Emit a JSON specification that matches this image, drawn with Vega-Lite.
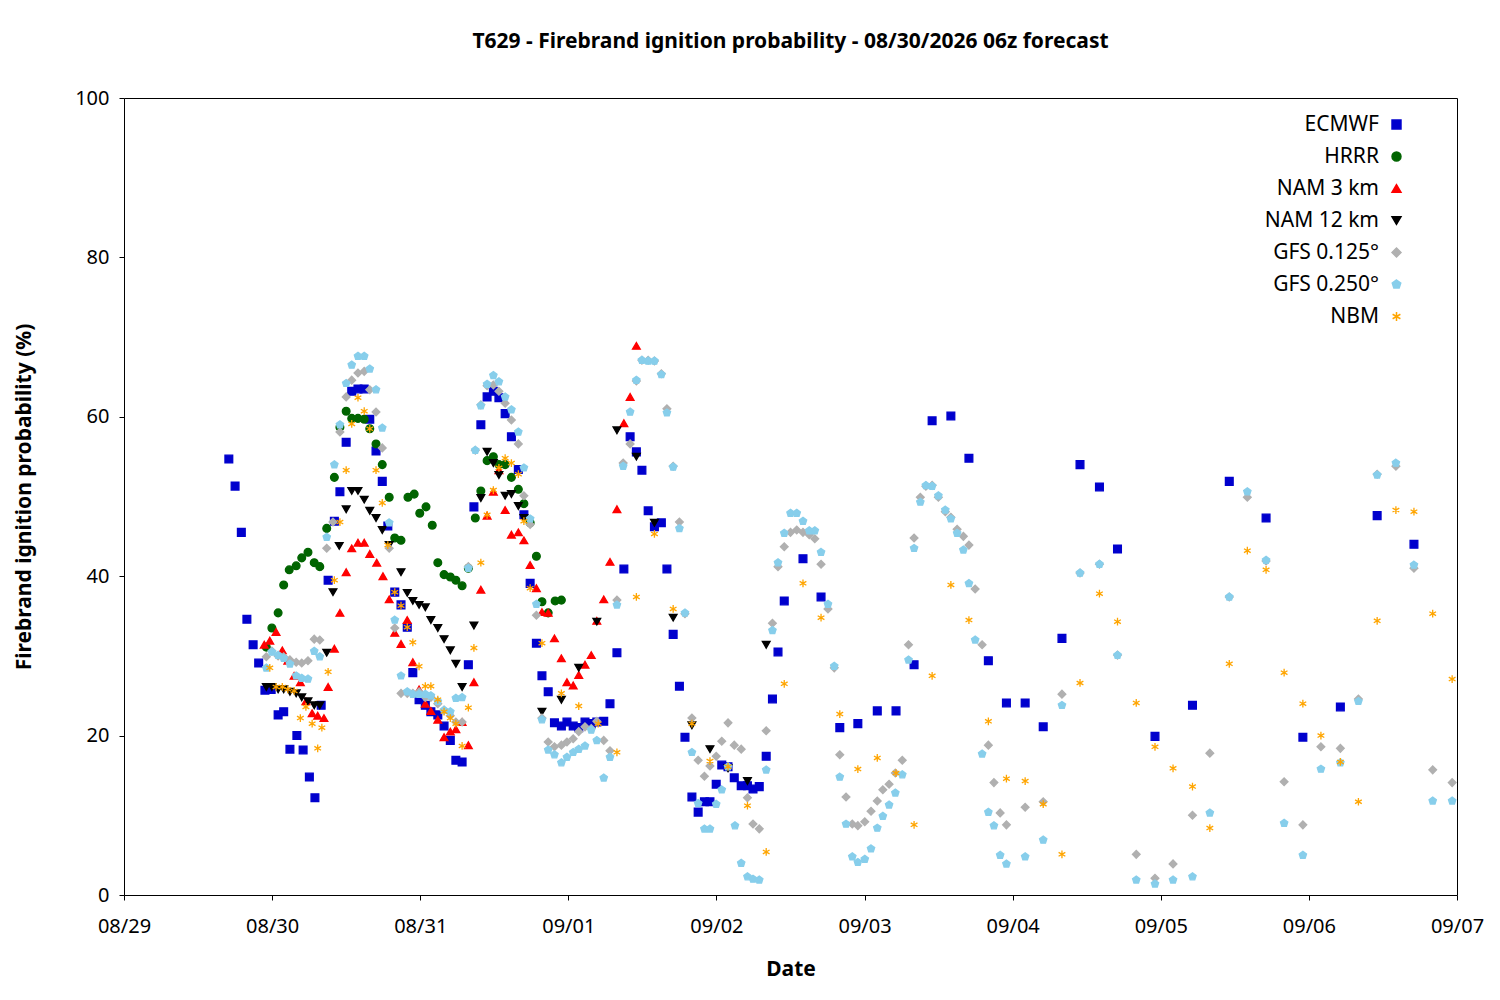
{
"$schema":"https://vega.github.io/schema/vega-lite/v6.json",
"width":1333,"height":797,
"autosize":"none",
"padding":{"left":124,"top":98,"right":43,"bottom":105},
"background":"white",
"title":{"text":"T629 - Firebrand ignition probability - 08/30/2026 06z forecast","font":"Noto Sans","fontSize":21,"fontWeight":"bold","offset":36},
"config":{"view":{"stroke":"black","strokeWidth":1},"font":"Noto Sans"},
"data":{"values":[
{"m":"ECMWF","h":15.1,"v":54.7},{"m":"ECMWF","h":16,"v":51.3},{"m":"ECMWF","h":16.9,"v":45.5},{"m":"ECMWF","h":17.7,"v":34.6},{"m":"ECMWF","h":18.6,"v":31.4},{"m":"ECMWF","h":19.4,"v":29.1},{"m":"ECMWF","h":20.3,"v":25.7},{"m":"ECMWF","h":21.2,"v":25.8},{"m":"ECMWF","h":22.2,"v":22.6},{"m":"ECMWF","h":23,"v":23},{"m":"ECMWF","h":23.9,"v":18.3},{"m":"ECMWF","h":24.9,"v":20},{"m":"ECMWF","h":25.8,"v":18.2},{"m":"ECMWF","h":26.7,"v":14.8},{"m":"ECMWF","h":27.5,"v":12.2},{"m":"ECMWF","h":28.4,"v":23.8},{"m":"ECMWF","h":29.4,"v":39.5},{"m":"ECMWF","h":30.3,"v":46.9},{"m":"ECMWF","h":31.1,"v":50.6},{"m":"ECMWF","h":32,"v":56.8},{"m":"ECMWF","h":32.8,"v":63.2},{"m":"ECMWF","h":33.7,"v":63.5},{"m":"ECMWF","h":34.6,"v":63.5},{"m":"ECMWF","h":35.4,"v":59.7},{"m":"ECMWF","h":36.3,"v":55.7},{"m":"ECMWF","h":37.2,"v":51.9},{"m":"ECMWF","h":38,"v":46.3},{"m":"ECMWF","h":39,"v":38},{"m":"ECMWF","h":39.9,"v":36.4},{"m":"ECMWF","h":40.8,"v":33.6},{"m":"ECMWF","h":41.6,"v":27.9},{"m":"ECMWF","h":42.5,"v":24.5},{"m":"ECMWF","h":43.4,"v":23.8},{"m":"ECMWF","h":44.2,"v":23},{"m":"ECMWF","h":45.2,"v":22.6},{"m":"ECMWF","h":46.1,"v":21.2},{"m":"ECMWF","h":47,"v":19.4},{"m":"ECMWF","h":47.8,"v":16.9},{"m":"ECMWF","h":48.7,"v":16.7},{"m":"ECMWF","h":49.6,"v":28.9},{"m":"ECMWF","h":50.4,"v":48.7},{"m":"ECMWF","h":51.4,"v":59},{"m":"ECMWF","h":52.3,"v":62.5},{"m":"ECMWF","h":53.2,"v":63.2},{"m":"ECMWF","h":54,"v":62.4},{"m":"ECMWF","h":54.9,"v":60.4},{"m":"ECMWF","h":55.8,"v":57.5},{"m":"ECMWF","h":56.8,"v":53.4},{"m":"ECMWF","h":57.6,"v":47.7},{"m":"ECMWF","h":58.5,"v":39.1},{"m":"ECMWF","h":59.4,"v":31.6},{"m":"ECMWF","h":60.2,"v":27.5},{"m":"ECMWF","h":61.1,"v":25.5},{"m":"ECMWF","h":62,"v":21.6},{"m":"ECMWF","h":63,"v":21.2},{"m":"ECMWF","h":63.8,"v":21.7},{"m":"ECMWF","h":64.7,"v":21.2},{"m":"ECMWF","h":65.5,"v":21},{"m":"ECMWF","h":66.4,"v":21.7},{"m":"ECMWF","h":67.3,"v":21.5},{"m":"ECMWF","h":68.1,"v":21.7},{"m":"ECMWF","h":69.1,"v":21.8},{"m":"ECMWF","h":70,"v":24},{"m":"ECMWF","h":71,"v":30.4},{"m":"ECMWF","h":72,"v":40.9},{"m":"ECMWF","h":72.9,"v":57.5},{"m":"ECMWF","h":73.8,"v":55.6},{"m":"ECMWF","h":74.6,"v":53.3},{"m":"ECMWF","h":75.5,"v":48.2},{"m":"ECMWF","h":76.4,"v":46.2},{"m":"ECMWF","h":77.4,"v":46.7},{"m":"ECMWF","h":78.2,"v":40.9},{"m":"ECMWF","h":79.1,"v":32.7},{"m":"ECMWF","h":80,"v":26.2},{"m":"ECMWF","h":80.8,"v":19.8},{"m":"ECMWF","h":81.8,"v":12.3},{"m":"ECMWF","h":82.7,"v":10.4},{"m":"ECMWF","h":83.6,"v":11.7},{"m":"ECMWF","h":84.4,"v":11.7},{"m":"ECMWF","h":85.3,"v":13.9},{"m":"ECMWF","h":86.1,"v":16.3},{"m":"ECMWF","h":87,"v":16.1},{"m":"ECMWF","h":87.9,"v":14.7},{"m":"ECMWF","h":88.9,"v":13.7},{"m":"ECMWF","h":89.8,"v":13.7},{"m":"ECMWF","h":90.6,"v":13.3},{"m":"ECMWF","h":91.5,"v":13.6},{"m":"ECMWF","h":92.5,"v":17.4},{"m":"ECMWF","h":93.4,"v":24.6},{"m":"ECMWF","h":94.2,"v":30.5},{"m":"ECMWF","h":95.1,"v":36.9},{"m":"ECMWF","h":97.8,"v":42.2},{"m":"ECMWF","h":100.4,"v":37.4},{"m":"ECMWF","h":103.1,"v":21},{"m":"ECMWF","h":105.7,"v":21.5},{"m":"ECMWF","h":108.5,"v":23.1},{"m":"ECMWF","h":111.2,"v":23.1},{"m":"ECMWF","h":113.8,"v":28.9},{"m":"ECMWF","h":116.4,"v":59.5},{"m":"ECMWF","h":119.1,"v":60.1},{"m":"ECMWF","h":121.7,"v":54.8},{"m":"ECMWF","h":124.5,"v":29.4},{"m":"ECMWF","h":127.1,"v":24.1},{"m":"ECMWF","h":129.8,"v":24.1},{"m":"ECMWF","h":132.4,"v":21.1},{"m":"ECMWF","h":135.1,"v":32.2},{"m":"ECMWF","h":137.7,"v":54},{"m":"ECMWF","h":140.5,"v":51.2},{"m":"ECMWF","h":143.1,"v":43.4},{"m":"ECMWF","h":148.5,"v":19.9},{"m":"ECMWF","h":153.9,"v":23.8},{"m":"ECMWF","h":159.2,"v":51.9},{"m":"ECMWF","h":164.5,"v":47.3},{"m":"ECMWF","h":169.8,"v":19.8},{"m":"ECMWF","h":175.2,"v":23.6},{"m":"ECMWF","h":180.5,"v":47.6},{"m":"ECMWF","h":185.8,"v":44},
{"m":"HRRR","h":20.5,"v":31.1},{"m":"HRRR","h":21.3,"v":33.5},{"m":"HRRR","h":22.2,"v":35.4},{"m":"HRRR","h":23,"v":38.9},{"m":"HRRR","h":23.8,"v":40.8},{"m":"HRRR","h":24.8,"v":41.3},{"m":"HRRR","h":25.6,"v":42.3},{"m":"HRRR","h":26.5,"v":43},{"m":"HRRR","h":27.4,"v":41.7},{"m":"HRRR","h":28.2,"v":41.2},{"m":"HRRR","h":29.2,"v":46},{"m":"HRRR","h":30.3,"v":52.4},{"m":"HRRR","h":31.1,"v":58.7},{"m":"HRRR","h":32,"v":60.7},{"m":"HRRR","h":32.8,"v":59.8},{"m":"HRRR","h":33.7,"v":59.8},{"m":"HRRR","h":34.6,"v":59.7},{"m":"HRRR","h":35.4,"v":58.5},{"m":"HRRR","h":36.3,"v":56.6},{"m":"HRRR","h":37.2,"v":54},{"m":"HRRR","h":38.2,"v":49.9},{"m":"HRRR","h":39,"v":44.8},{"m":"HRRR","h":39.9,"v":44.5},{"m":"HRRR","h":40.9,"v":49.9},{"m":"HRRR","h":41.8,"v":50.3},{"m":"HRRR","h":42.6,"v":47.9},{"m":"HRRR","h":43.5,"v":48.7},{"m":"HRRR","h":44.4,"v":46.4},{"m":"HRRR","h":45.2,"v":41.7},{"m":"HRRR","h":46.1,"v":40.2},{"m":"HRRR","h":47,"v":39.9},{"m":"HRRR","h":47.8,"v":39.5},{"m":"HRRR","h":48.7,"v":38.8},{"m":"HRRR","h":49.6,"v":41},{"m":"HRRR","h":50.6,"v":47.3},{"m":"HRRR","h":51.4,"v":50.7},{"m":"HRRR","h":52.3,"v":54.5},{"m":"HRRR","h":53.2,"v":55},{"m":"HRRR","h":54,"v":54},{"m":"HRRR","h":54.9,"v":54},{"m":"HRRR","h":55.8,"v":52.4},{"m":"HRRR","h":56.8,"v":50.9},{"m":"HRRR","h":57.6,"v":49.1},{"m":"HRRR","h":58.5,"v":46.7},{"m":"HRRR","h":59.4,"v":42.5},{"m":"HRRR","h":60.2,"v":36.8},{"m":"HRRR","h":61.1,"v":35.4},{"m":"HRRR","h":62.1,"v":36.9},{"m":"HRRR","h":63,"v":37},
{"m":"NAM 3 km","h":20.2,"v":31.4},{"m":"NAM 3 km","h":21,"v":31.9},{"m":"NAM 3 km","h":21.9,"v":33},{"m":"NAM 3 km","h":22.8,"v":30.7},{"m":"NAM 3 km","h":23.6,"v":29.4},{"m":"NAM 3 km","h":24.5,"v":27.5},{"m":"NAM 3 km","h":25.4,"v":26.7},{"m":"NAM 3 km","h":26.2,"v":24.3},{"m":"NAM 3 km","h":27.1,"v":22.8},{"m":"NAM 3 km","h":27.9,"v":22.5},{"m":"NAM 3 km","h":28.8,"v":22.2},{"m":"NAM 3 km","h":29.4,"v":26.1},{"m":"NAM 3 km","h":30.3,"v":30.9},{"m":"NAM 3 km","h":31.1,"v":35.4},{"m":"NAM 3 km","h":32,"v":40.5},{"m":"NAM 3 km","h":32.8,"v":43.5},{"m":"NAM 3 km","h":33.7,"v":44.2},{"m":"NAM 3 km","h":34.6,"v":44.2},{"m":"NAM 3 km","h":35.4,"v":42.8},{"m":"NAM 3 km","h":36.4,"v":41.7},{"m":"NAM 3 km","h":37.3,"v":40},{"m":"NAM 3 km","h":38.2,"v":37.1},{"m":"NAM 3 km","h":39,"v":32.9},{"m":"NAM 3 km","h":39.9,"v":31.5},{"m":"NAM 3 km","h":40.8,"v":34.5},{"m":"NAM 3 km","h":41.6,"v":29.2},{"m":"NAM 3 km","h":42.5,"v":25.8},{"m":"NAM 3 km","h":43.4,"v":24},{"m":"NAM 3 km","h":44.2,"v":23.1},{"m":"NAM 3 km","h":45.2,"v":22},{"m":"NAM 3 km","h":46.1,"v":19.8},{"m":"NAM 3 km","h":47,"v":20.5},{"m":"NAM 3 km","h":47.8,"v":20.8},{"m":"NAM 3 km","h":48.7,"v":21.7},{"m":"NAM 3 km","h":49.6,"v":18.8},{"m":"NAM 3 km","h":50.4,"v":26.7},{"m":"NAM 3 km","h":51.4,"v":38.3},{"m":"NAM 3 km","h":52.3,"v":47.6},{"m":"NAM 3 km","h":53.2,"v":50.6},{"m":"NAM 3 km","h":54,"v":53.3},{"m":"NAM 3 km","h":54.9,"v":48.3},{"m":"NAM 3 km","h":55.8,"v":45.2},{"m":"NAM 3 km","h":56.8,"v":45.5},{"m":"NAM 3 km","h":57.6,"v":44.5},{"m":"NAM 3 km","h":58.5,"v":41.4},{"m":"NAM 3 km","h":59.4,"v":38.5},{"m":"NAM 3 km","h":60.2,"v":35.5},{"m":"NAM 3 km","h":61.1,"v":35.4},{"m":"NAM 3 km","h":62,"v":32.2},{"m":"NAM 3 km","h":63,"v":29.7},{"m":"NAM 3 km","h":63.8,"v":26.7},{"m":"NAM 3 km","h":64.7,"v":26.3},{"m":"NAM 3 km","h":65.5,"v":27.6},{"m":"NAM 3 km","h":66.4,"v":28.9},{"m":"NAM 3 km","h":67.3,"v":30.1},{"m":"NAM 3 km","h":68.1,"v":34.4},{"m":"NAM 3 km","h":69.1,"v":37.1},{"m":"NAM 3 km","h":70,"v":41.8},{"m":"NAM 3 km","h":71,"v":48.4},{"m":"NAM 3 km","h":72,"v":59.2},{"m":"NAM 3 km","h":72.9,"v":62.5},{"m":"NAM 3 km","h":73.8,"v":68.9},
{"m":"NAM 12 km","h":20.5,"v":26.1},{"m":"NAM 12 km","h":21.3,"v":26.1},{"m":"NAM 12 km","h":22.2,"v":25.8},{"m":"NAM 12 km","h":23,"v":25.8},{"m":"NAM 12 km","h":23.9,"v":25.5},{"m":"NAM 12 km","h":24.8,"v":25.3},{"m":"NAM 12 km","h":25.6,"v":24.8},{"m":"NAM 12 km","h":26.5,"v":24.3},{"m":"NAM 12 km","h":27.4,"v":23.8},{"m":"NAM 12 km","h":28.2,"v":23.8},{"m":"NAM 12 km","h":29.2,"v":30.4},{"m":"NAM 12 km","h":30.1,"v":38},{"m":"NAM 12 km","h":31,"v":43.8},{"m":"NAM 12 km","h":32,"v":48.4},{"m":"NAM 12 km","h":32.8,"v":50.7},{"m":"NAM 12 km","h":33.7,"v":50.7},{"m":"NAM 12 km","h":34.6,"v":49.6},{"m":"NAM 12 km","h":35.4,"v":48.2},{"m":"NAM 12 km","h":36.3,"v":47.3},{"m":"NAM 12 km","h":37.2,"v":45.8},{"m":"NAM 12 km","h":38.2,"v":43.9},{"m":"NAM 12 km","h":39.9,"v":40.5},{"m":"NAM 12 km","h":40.8,"v":37.9},{"m":"NAM 12 km","h":41.6,"v":36.9},{"m":"NAM 12 km","h":42.5,"v":36.4},{"m":"NAM 12 km","h":43.4,"v":36.1},{"m":"NAM 12 km","h":44.2,"v":34.5},{"m":"NAM 12 km","h":45.2,"v":33.5},{"m":"NAM 12 km","h":46.1,"v":32.1},{"m":"NAM 12 km","h":47,"v":30.7},{"m":"NAM 12 km","h":47.8,"v":29},{"m":"NAM 12 km","h":48.7,"v":26.1},{"m":"NAM 12 km","h":50.4,"v":33.8},{"m":"NAM 12 km","h":51.4,"v":49.8},{"m":"NAM 12 km","h":52.3,"v":55.6},{"m":"NAM 12 km","h":53.2,"v":54.2},{"m":"NAM 12 km","h":54,"v":52.7},{"m":"NAM 12 km","h":54.9,"v":50.1},{"m":"NAM 12 km","h":55.8,"v":50.3},{"m":"NAM 12 km","h":56.8,"v":48.8},{"m":"NAM 12 km","h":57.6,"v":47.3},{"m":"NAM 12 km","h":60.2,"v":23},{"m":"NAM 12 km","h":63,"v":24.5},{"m":"NAM 12 km","h":65.5,"v":28.5},{"m":"NAM 12 km","h":68.1,"v":34.3},{"m":"NAM 12 km","h":71,"v":58.3},{"m":"NAM 12 km","h":73.8,"v":55},{"m":"NAM 12 km","h":76.4,"v":46.7},{"m":"NAM 12 km","h":79.1,"v":34.8},{"m":"NAM 12 km","h":81.8,"v":21.3},{"m":"NAM 12 km","h":84.4,"v":18.3},{"m":"NAM 12 km","h":87,"v":15.9},{"m":"NAM 12 km","h":89.8,"v":14.3},{"m":"NAM 12 km","h":92.5,"v":31.4},
{"m":"GFS 0.125°","h":20.5,"v":29.9},{"m":"GFS 0.125°","h":21.3,"v":30.6},{"m":"GFS 0.125°","h":22.2,"v":30},{"m":"GFS 0.125°","h":23,"v":29.9},{"m":"GFS 0.125°","h":23.9,"v":29.5},{"m":"GFS 0.125°","h":24.8,"v":29.2},{"m":"GFS 0.125°","h":25.6,"v":29.1},{"m":"GFS 0.125°","h":26.5,"v":29.4},{"m":"GFS 0.125°","h":27.4,"v":32.1},{"m":"GFS 0.125°","h":28.2,"v":32},{"m":"GFS 0.125°","h":29.2,"v":43.5},{"m":"GFS 0.125°","h":30.1,"v":46.8},{"m":"GFS 0.125°","h":31.1,"v":58.1},{"m":"GFS 0.125°","h":32,"v":62.5},{"m":"GFS 0.125°","h":32.8,"v":64.6},{"m":"GFS 0.125°","h":33.7,"v":65.5},{"m":"GFS 0.125°","h":34.6,"v":65.7},{"m":"GFS 0.125°","h":35.4,"v":63.4},{"m":"GFS 0.125°","h":36.3,"v":60.6},{"m":"GFS 0.125°","h":37.2,"v":56.1},{"m":"GFS 0.125°","h":38.2,"v":43.5},{"m":"GFS 0.125°","h":39,"v":33.5},{"m":"GFS 0.125°","h":39.9,"v":25.3},{"m":"GFS 0.125°","h":40.8,"v":25.3},{"m":"GFS 0.125°","h":41.6,"v":25.3},{"m":"GFS 0.125°","h":42.5,"v":25.5},{"m":"GFS 0.125°","h":43.4,"v":24.8},{"m":"GFS 0.125°","h":44.2,"v":24.8},{"m":"GFS 0.125°","h":45.2,"v":24},{"m":"GFS 0.125°","h":46.1,"v":23.2},{"m":"GFS 0.125°","h":47,"v":22.5},{"m":"GFS 0.125°","h":47.8,"v":21.7},{"m":"GFS 0.125°","h":48.7,"v":21.7},{"m":"GFS 0.125°","h":49.6,"v":41.2},{"m":"GFS 0.125°","h":50.6,"v":55.8},{"m":"GFS 0.125°","h":51.4,"v":61.5},{"m":"GFS 0.125°","h":52.3,"v":63.9},{"m":"GFS 0.125°","h":53.2,"v":64},{"m":"GFS 0.125°","h":54,"v":63.2},{"m":"GFS 0.125°","h":54.9,"v":61.7},{"m":"GFS 0.125°","h":55.8,"v":59.6},{"m":"GFS 0.125°","h":56.8,"v":56.6},{"m":"GFS 0.125°","h":57.6,"v":50.1},{"m":"GFS 0.125°","h":58.5,"v":46.5},{"m":"GFS 0.125°","h":59.4,"v":35.1},{"m":"GFS 0.125°","h":60.2,"v":22.2},{"m":"GFS 0.125°","h":61.1,"v":19.2},{"m":"GFS 0.125°","h":62,"v":18.6},{"m":"GFS 0.125°","h":63,"v":18.8},{"m":"GFS 0.125°","h":63.8,"v":19.2},{"m":"GFS 0.125°","h":64.7,"v":19.6},{"m":"GFS 0.125°","h":65.5,"v":20.5},{"m":"GFS 0.125°","h":66.4,"v":21.1},{"m":"GFS 0.125°","h":67.3,"v":20.9},{"m":"GFS 0.125°","h":68.1,"v":21.8},{"m":"GFS 0.125°","h":69.1,"v":19.4},{"m":"GFS 0.125°","h":70,"v":18.1},{"m":"GFS 0.125°","h":71,"v":37},{"m":"GFS 0.125°","h":71.9,"v":54.2},{"m":"GFS 0.125°","h":72.9,"v":56.6},{"m":"GFS 0.125°","h":73.8,"v":64.5},{"m":"GFS 0.125°","h":74.6,"v":67.1},{"m":"GFS 0.125°","h":75.5,"v":67.1},{"m":"GFS 0.125°","h":76.4,"v":67},{"m":"GFS 0.125°","h":77.4,"v":65.4},{"m":"GFS 0.125°","h":78.2,"v":61},{"m":"GFS 0.125°","h":79.1,"v":53.8},{"m":"GFS 0.125°","h":80,"v":46.8},{"m":"GFS 0.125°","h":80.8,"v":35.3},{"m":"GFS 0.125°","h":81.8,"v":22.2},{"m":"GFS 0.125°","h":82.7,"v":16.9},{"m":"GFS 0.125°","h":83.6,"v":14.9},{"m":"GFS 0.125°","h":84.4,"v":16.2},{"m":"GFS 0.125°","h":85.3,"v":17.4},{"m":"GFS 0.125°","h":86.1,"v":19.3},{"m":"GFS 0.125°","h":87,"v":21.6},{"m":"GFS 0.125°","h":87.9,"v":18.8},{"m":"GFS 0.125°","h":88.9,"v":18.3},{"m":"GFS 0.125°","h":89.8,"v":12.2},{"m":"GFS 0.125°","h":90.6,"v":8.9},{"m":"GFS 0.125°","h":91.5,"v":8.3},{"m":"GFS 0.125°","h":92.5,"v":20.6},{"m":"GFS 0.125°","h":93.4,"v":34.1},{"m":"GFS 0.125°","h":94.2,"v":41.2},{"m":"GFS 0.125°","h":95.1,"v":43.7},{"m":"GFS 0.125°","h":96,"v":45.5},{"m":"GFS 0.125°","h":96.9,"v":45.8},{"m":"GFS 0.125°","h":97.8,"v":45.5},{"m":"GFS 0.125°","h":98.7,"v":45.2},{"m":"GFS 0.125°","h":99.5,"v":44.7},{"m":"GFS 0.125°","h":100.4,"v":41.5},{"m":"GFS 0.125°","h":101.4,"v":35.9},{"m":"GFS 0.125°","h":102.3,"v":28.5},{"m":"GFS 0.125°","h":103.1,"v":17.6},{"m":"GFS 0.125°","h":104,"v":12.3},{"m":"GFS 0.125°","h":104.9,"v":8.9},{"m":"GFS 0.125°","h":105.7,"v":8.7},{"m":"GFS 0.125°","h":106.7,"v":9.2},{"m":"GFS 0.125°","h":107.6,"v":10.5},{"m":"GFS 0.125°","h":108.5,"v":11.8},{"m":"GFS 0.125°","h":109.3,"v":13.2},{"m":"GFS 0.125°","h":110.2,"v":13.9},{"m":"GFS 0.125°","h":111.1,"v":15.3},{"m":"GFS 0.125°","h":112.1,"v":16.9},{"m":"GFS 0.125°","h":113,"v":31.4},{"m":"GFS 0.125°","h":113.8,"v":44.8},{"m":"GFS 0.125°","h":114.7,"v":49.9},{"m":"GFS 0.125°","h":115.5,"v":51.3},{"m":"GFS 0.125°","h":116.4,"v":51.4},{"m":"GFS 0.125°","h":117.3,"v":49.9},{"m":"GFS 0.125°","h":118.3,"v":48.1},{"m":"GFS 0.125°","h":119.1,"v":47.4},{"m":"GFS 0.125°","h":120,"v":45.9},{"m":"GFS 0.125°","h":120.9,"v":45},{"m":"GFS 0.125°","h":121.7,"v":43.9},{"m":"GFS 0.125°","h":122.6,"v":38.4},{"m":"GFS 0.125°","h":123.6,"v":31.4},{"m":"GFS 0.125°","h":124.5,"v":18.8},{"m":"GFS 0.125°","h":125.3,"v":14.1},{"m":"GFS 0.125°","h":126.2,"v":10.3},{"m":"GFS 0.125°","h":127.1,"v":8.8},{"m":"GFS 0.125°","h":129.8,"v":11},{"m":"GFS 0.125°","h":132.4,"v":11.7},{"m":"GFS 0.125°","h":135.1,"v":25.2},{"m":"GFS 0.125°","h":137.7,"v":40.4},{"m":"GFS 0.125°","h":140.5,"v":41.5},{"m":"GFS 0.125°","h":143.1,"v":30.1},{"m":"GFS 0.125°","h":145.8,"v":5.1},{"m":"GFS 0.125°","h":148.5,"v":2.1},{"m":"GFS 0.125°","h":151.1,"v":3.9},{"m":"GFS 0.125°","h":153.9,"v":10},{"m":"GFS 0.125°","h":156.4,"v":17.8},{"m":"GFS 0.125°","h":159.2,"v":37.4},{"m":"GFS 0.125°","h":161.8,"v":49.9},{"m":"GFS 0.125°","h":164.5,"v":41.9},{"m":"GFS 0.125°","h":167.1,"v":14.2},{"m":"GFS 0.125°","h":169.8,"v":8.8},{"m":"GFS 0.125°","h":172.4,"v":18.6},{"m":"GFS 0.125°","h":175.2,"v":18.4},{"m":"GFS 0.125°","h":177.8,"v":24.6},{"m":"GFS 0.125°","h":180.5,"v":52.8},{"m":"GFS 0.125°","h":183.2,"v":53.8},{"m":"GFS 0.125°","h":185.8,"v":41},{"m":"GFS 0.125°","h":188.5,"v":15.7},{"m":"GFS 0.125°","h":191.3,"v":14.1},
{"m":"GFS 0.250°","h":20.5,"v":28.5},{"m":"GFS 0.250°","h":21.3,"v":30.5},{"m":"GFS 0.250°","h":22.2,"v":30.1},{"m":"GFS 0.250°","h":23,"v":29.7},{"m":"GFS 0.250°","h":23.9,"v":29},{"m":"GFS 0.250°","h":24.8,"v":27.5},{"m":"GFS 0.250°","h":25.6,"v":27.2},{"m":"GFS 0.250°","h":26.5,"v":27.1},{"m":"GFS 0.250°","h":27.4,"v":30.6},{"m":"GFS 0.250°","h":28.2,"v":29.9},{"m":"GFS 0.250°","h":29.2,"v":44.9},{"m":"GFS 0.250°","h":30.3,"v":54},{"m":"GFS 0.250°","h":31.1,"v":59},{"m":"GFS 0.250°","h":32,"v":64.2},{"m":"GFS 0.250°","h":32.8,"v":66.5},{"m":"GFS 0.250°","h":33.7,"v":67.6},{"m":"GFS 0.250°","h":34.6,"v":67.6},{"m":"GFS 0.250°","h":35.4,"v":66},{"m":"GFS 0.250°","h":36.3,"v":63.4},{"m":"GFS 0.250°","h":37.2,"v":58.6},{"m":"GFS 0.250°","h":38.2,"v":46.7},{"m":"GFS 0.250°","h":39,"v":34.5},{"m":"GFS 0.250°","h":39.9,"v":27.5},{"m":"GFS 0.250°","h":40.8,"v":25.5},{"m":"GFS 0.250°","h":41.6,"v":25.2},{"m":"GFS 0.250°","h":42.5,"v":25.2},{"m":"GFS 0.250°","h":43.4,"v":25.2},{"m":"GFS 0.250°","h":44.2,"v":25},{"m":"GFS 0.250°","h":45.2,"v":24.3},{"m":"GFS 0.250°","h":46.1,"v":23.2},{"m":"GFS 0.250°","h":47,"v":23},{"m":"GFS 0.250°","h":47.8,"v":24.7},{"m":"GFS 0.250°","h":48.7,"v":24.8},{"m":"GFS 0.250°","h":49.6,"v":41},{"m":"GFS 0.250°","h":50.6,"v":55.8},{"m":"GFS 0.250°","h":51.4,"v":61.4},{"m":"GFS 0.250°","h":52.3,"v":64.1},{"m":"GFS 0.250°","h":53.2,"v":65.2},{"m":"GFS 0.250°","h":54,"v":64.4},{"m":"GFS 0.250°","h":54.9,"v":62.5},{"m":"GFS 0.250°","h":55.8,"v":60.9},{"m":"GFS 0.250°","h":56.8,"v":58.1},{"m":"GFS 0.250°","h":57.6,"v":53.6},{"m":"GFS 0.250°","h":58.5,"v":47.2},{"m":"GFS 0.250°","h":59.4,"v":36.5},{"m":"GFS 0.250°","h":60.2,"v":22},{"m":"GFS 0.250°","h":61.1,"v":18.2},{"m":"GFS 0.250°","h":62,"v":17.6},{"m":"GFS 0.250°","h":63,"v":16.6},{"m":"GFS 0.250°","h":63.8,"v":17.3},{"m":"GFS 0.250°","h":64.7,"v":17.9},{"m":"GFS 0.250°","h":65.5,"v":18.3},{"m":"GFS 0.250°","h":66.4,"v":18.7},{"m":"GFS 0.250°","h":67.3,"v":20.7},{"m":"GFS 0.250°","h":68.1,"v":19.4},{"m":"GFS 0.250°","h":69.1,"v":14.7},{"m":"GFS 0.250°","h":70,"v":17.3},{"m":"GFS 0.250°","h":71,"v":36.4},{"m":"GFS 0.250°","h":71.9,"v":53.8},{"m":"GFS 0.250°","h":72.9,"v":60.6},{"m":"GFS 0.250°","h":73.8,"v":64.6},{"m":"GFS 0.250°","h":74.6,"v":67.1},{"m":"GFS 0.250°","h":75.5,"v":67},{"m":"GFS 0.250°","h":76.4,"v":67},{"m":"GFS 0.250°","h":77.4,"v":65.3},{"m":"GFS 0.250°","h":78.2,"v":60.5},{"m":"GFS 0.250°","h":79.1,"v":53.7},{"m":"GFS 0.250°","h":80,"v":46},{"m":"GFS 0.250°","h":80.8,"v":35.4},{"m":"GFS 0.250°","h":81.8,"v":17.9},{"m":"GFS 0.250°","h":82.7,"v":11.5},{"m":"GFS 0.250°","h":83.6,"v":8.3},{"m":"GFS 0.250°","h":84.4,"v":8.3},{"m":"GFS 0.250°","h":85.3,"v":11.4},{"m":"GFS 0.250°","h":86.1,"v":13.2},{"m":"GFS 0.250°","h":87,"v":16.1},{"m":"GFS 0.250°","h":88,"v":8.7},{"m":"GFS 0.250°","h":88.9,"v":4},{"m":"GFS 0.250°","h":89.8,"v":2.3},{"m":"GFS 0.250°","h":90.6,"v":2},{"m":"GFS 0.250°","h":91.5,"v":1.9},{"m":"GFS 0.250°","h":92.5,"v":15.7},{"m":"GFS 0.250°","h":93.4,"v":33.2},{"m":"GFS 0.250°","h":94.2,"v":41.7},{"m":"GFS 0.250°","h":95.1,"v":45.4},{"m":"GFS 0.250°","h":96,"v":47.9},{"m":"GFS 0.250°","h":96.9,"v":47.9},{"m":"GFS 0.250°","h":97.8,"v":46.9},{"m":"GFS 0.250°","h":98.7,"v":45.7},{"m":"GFS 0.250°","h":99.5,"v":45.7},{"m":"GFS 0.250°","h":100.4,"v":43},{"m":"GFS 0.250°","h":101.4,"v":36.5},{"m":"GFS 0.250°","h":102.3,"v":28.7},{"m":"GFS 0.250°","h":103.1,"v":14.8},{"m":"GFS 0.250°","h":104,"v":8.9},{"m":"GFS 0.250°","h":104.9,"v":4.8},{"m":"GFS 0.250°","h":105.7,"v":4.1},{"m":"GFS 0.250°","h":106.7,"v":4.5},{"m":"GFS 0.250°","h":107.6,"v":5.8},{"m":"GFS 0.250°","h":108.5,"v":8.4},{"m":"GFS 0.250°","h":109.3,"v":9.9},{"m":"GFS 0.250°","h":110.2,"v":11.3},{"m":"GFS 0.250°","h":111.1,"v":12.8},{"m":"GFS 0.250°","h":112.1,"v":15.1},{"m":"GFS 0.250°","h":113,"v":29.5},{"m":"GFS 0.250°","h":113.8,"v":43.5},{"m":"GFS 0.250°","h":114.7,"v":49.3},{"m":"GFS 0.250°","h":115.5,"v":51.4},{"m":"GFS 0.250°","h":116.4,"v":51.3},{"m":"GFS 0.250°","h":117.3,"v":50.1},{"m":"GFS 0.250°","h":118.3,"v":48.3},{"m":"GFS 0.250°","h":119.1,"v":47.2},{"m":"GFS 0.250°","h":120,"v":45.4},{"m":"GFS 0.250°","h":120.9,"v":43.3},{"m":"GFS 0.250°","h":121.7,"v":39.1},{"m":"GFS 0.250°","h":122.6,"v":32},{"m":"GFS 0.250°","h":123.6,"v":17.7},{"m":"GFS 0.250°","h":124.5,"v":10.4},{"m":"GFS 0.250°","h":125.3,"v":8.7},{"m":"GFS 0.250°","h":126.2,"v":5},{"m":"GFS 0.250°","h":127.1,"v":3.9},{"m":"GFS 0.250°","h":129.8,"v":4.8},{"m":"GFS 0.250°","h":132.4,"v":6.9},{"m":"GFS 0.250°","h":135.1,"v":23.8},{"m":"GFS 0.250°","h":137.7,"v":40.4},{"m":"GFS 0.250°","h":140.5,"v":41.5},{"m":"GFS 0.250°","h":143.1,"v":30.1},{"m":"GFS 0.250°","h":145.8,"v":1.9},{"m":"GFS 0.250°","h":148.5,"v":1.4},{"m":"GFS 0.250°","h":151.1,"v":1.9},{"m":"GFS 0.250°","h":153.9,"v":2.3},{"m":"GFS 0.250°","h":156.4,"v":10.3},{"m":"GFS 0.250°","h":159.2,"v":37.4},{"m":"GFS 0.250°","h":161.8,"v":50.6},{"m":"GFS 0.250°","h":164.5,"v":42},{"m":"GFS 0.250°","h":167.1,"v":9},{"m":"GFS 0.250°","h":169.8,"v":5},{"m":"GFS 0.250°","h":172.4,"v":15.8},{"m":"GFS 0.250°","h":175.2,"v":16.6},{"m":"GFS 0.250°","h":177.8,"v":24.3},{"m":"GFS 0.250°","h":180.5,"v":52.7},{"m":"GFS 0.250°","h":183.2,"v":54.2},{"m":"GFS 0.250°","h":185.8,"v":41.4},{"m":"GFS 0.250°","h":188.5,"v":11.8},{"m":"GFS 0.250°","h":191.3,"v":11.8},
{"m":"NBM","h":21,"v":28.5},{"m":"NBM","h":21.9,"v":26.1},{"m":"NBM","h":22.8,"v":26.1},{"m":"NBM","h":23.6,"v":25.8},{"m":"NBM","h":24.5,"v":25.6},{"m":"NBM","h":25.4,"v":22.2},{"m":"NBM","h":26.2,"v":23.6},{"m":"NBM","h":27.1,"v":21.5},{"m":"NBM","h":27.9,"v":18.4},{"m":"NBM","h":28.5,"v":21},{"m":"NBM","h":29.4,"v":28},{"m":"NBM","h":30.3,"v":39.5},{"m":"NBM","h":31.1,"v":46.8},{"m":"NBM","h":32,"v":53.3},{"m":"NBM","h":32.8,"v":59.1},{"m":"NBM","h":33.7,"v":62.4},{"m":"NBM","h":34.6,"v":60.7},{"m":"NBM","h":35.4,"v":58.5},{"m":"NBM","h":36.3,"v":53.3},{"m":"NBM","h":37.2,"v":49.2},{"m":"NBM","h":38,"v":43.9},{"m":"NBM","h":39,"v":38},{"m":"NBM","h":39.9,"v":36.3},{"m":"NBM","h":40.8,"v":33.6},{"m":"NBM","h":41.6,"v":31.7},{"m":"NBM","h":42.5,"v":28.7},{"m":"NBM","h":43.4,"v":26.2},{"m":"NBM","h":44.2,"v":26.2},{"m":"NBM","h":45.2,"v":24.5},{"m":"NBM","h":46.1,"v":23},{"m":"NBM","h":47,"v":22.2},{"m":"NBM","h":47.8,"v":21.5},{"m":"NBM","h":48.7,"v":18.7},{"m":"NBM","h":49.6,"v":23.5},{"m":"NBM","h":50.4,"v":31},{"m":"NBM","h":51.4,"v":41.7},{"m":"NBM","h":52.3,"v":47.7},{"m":"NBM","h":53.2,"v":50.8},{"m":"NBM","h":54,"v":53.6},{"m":"NBM","h":54.9,"v":54.8},{"m":"NBM","h":55.8,"v":54.2},{"m":"NBM","h":56.8,"v":52.8},{"m":"NBM","h":57.6,"v":46.9},{"m":"NBM","h":58.5,"v":38.5},{"m":"NBM","h":60.2,"v":31.6},{"m":"NBM","h":63,"v":25.3},{"m":"NBM","h":65.5,"v":23.7},{"m":"NBM","h":68.3,"v":21.5},{"m":"NBM","h":71,"v":17.9},{"m":"NBM","h":73.8,"v":37.4},{"m":"NBM","h":76.4,"v":45.3},{"m":"NBM","h":79.1,"v":35.9},{"m":"NBM","h":81.8,"v":21.5},{"m":"NBM","h":84.4,"v":16.8},{"m":"NBM","h":87,"v":16.1},{"m":"NBM","h":89.8,"v":11.2},{"m":"NBM","h":92.5,"v":5.4},{"m":"NBM","h":95.1,"v":26.5},{"m":"NBM","h":97.8,"v":39.1},{"m":"NBM","h":100.4,"v":34.8},{"m":"NBM","h":103.1,"v":22.7},{"m":"NBM","h":105.7,"v":15.8},{"m":"NBM","h":108.5,"v":17.2},{"m":"NBM","h":111.2,"v":15.3},{"m":"NBM","h":113.8,"v":8.8},{"m":"NBM","h":116.4,"v":27.5},{"m":"NBM","h":119.1,"v":38.9},{"m":"NBM","h":121.7,"v":34.5},{"m":"NBM","h":124.5,"v":21.8},{"m":"NBM","h":127.1,"v":14.6},{"m":"NBM","h":129.8,"v":14.3},{"m":"NBM","h":132.4,"v":11.4},{"m":"NBM","h":135.1,"v":5.1},{"m":"NBM","h":137.7,"v":26.6},{"m":"NBM","h":140.5,"v":37.8},{"m":"NBM","h":143.1,"v":34.3},{"m":"NBM","h":145.8,"v":24.1},{"m":"NBM","h":148.5,"v":18.6},{"m":"NBM","h":151.1,"v":15.9},{"m":"NBM","h":153.9,"v":13.6},{"m":"NBM","h":156.4,"v":8.4},{"m":"NBM","h":159.2,"v":29},{"m":"NBM","h":161.8,"v":43.2},{"m":"NBM","h":164.5,"v":40.8},{"m":"NBM","h":167.1,"v":27.9},{"m":"NBM","h":169.8,"v":24},{"m":"NBM","h":172.4,"v":20},{"m":"NBM","h":175.2,"v":16.7},{"m":"NBM","h":177.8,"v":11.7},{"m":"NBM","h":180.5,"v":34.4},{"m":"NBM","h":183.2,"v":48.3},{"m":"NBM","h":185.8,"v":48.1},{"m":"NBM","h":188.5,"v":35.3},{"m":"NBM","h":191.3,"v":27.1}
]},
"mark":{"type":"point","filled":true,"size":60,"strokeWidth":1.3,"opacity":1},
"encoding":{
"x":{"field":"h","type":"quantitative","scale":{"domain":[0,192],"nice":false},
"axis":{"title":"Date","values":[0,21.3333,42.6667,64,85.3333,106.6667,128,149.3333,170.6667,192],"labelExpr":"['08/29','08/30','08/31','09/01','09/02','09/03','09/04','09/05','09/06','09/07'][round(datum.value/21.3333)]","grid":false,"labelFontSize":20,"titleFontSize":21,"titleFontWeight":"bold","labelColor":"black","titleColor":"black","domain":false,"tickColor":"black","labelPadding":16,"titlePadding":22,"labelFlush":false}},
"y":{"field":"v","type":"quantitative","scale":{"domain":[0,100],"nice":false},
"axis":{"title":"Firebrand ignition probability (%)","values":[0,20,40,60,80,100],"grid":false,"labelFontSize":20,"titleFontSize":21,"titleFontWeight":"bold","labelColor":"black","titleColor":"black","domain":false,"tickColor":"black","labelPadding":10,"titlePadding":40}},
"color":{"field":"m","type":"nominal","scale":{"domain":["ECMWF","HRRR","NAM 3 km","NAM 12 km","GFS 0.125°","GFS 0.250°","NBM"],"range":["#0000cd","#006400","#ff0000","#000000","#b0b0b0","#87ceeb","#ffa500"]},
"legend":{"title":null,"orient":"none","legendX":1262,"legendY":16,"labelAlign":"right","labelOffset":-28,"labelFontSize":21,"labelColor":"black","symbolSize":80,"rowPadding":10}},
"stroke":{"field":"m","type":"nominal","scale":{"domain":["ECMWF","HRRR","NAM 3 km","NAM 12 km","GFS 0.125°","GFS 0.250°","NBM"],"range":["#0000cd","#006400","#ff0000","#000000","#b0b0b0","#87ceeb","#ffa500"]}},
"shape":{"field":"m","type":"nominal","scale":{"domain":["ECMWF","HRRR","NAM 3 km","NAM 12 km","GFS 0.125°","GFS 0.250°","NBM"],"range":["square","circle","triangle-up","triangle-down","diamond","M0,-1L0.95,-0.31L0.59,0.81L-0.59,0.81L-0.95,-0.31Z","M0,-1L0,1M-0.87,-0.5L0.87,0.5M-0.87,0.5L0.87,-0.5"]}}
}
}
